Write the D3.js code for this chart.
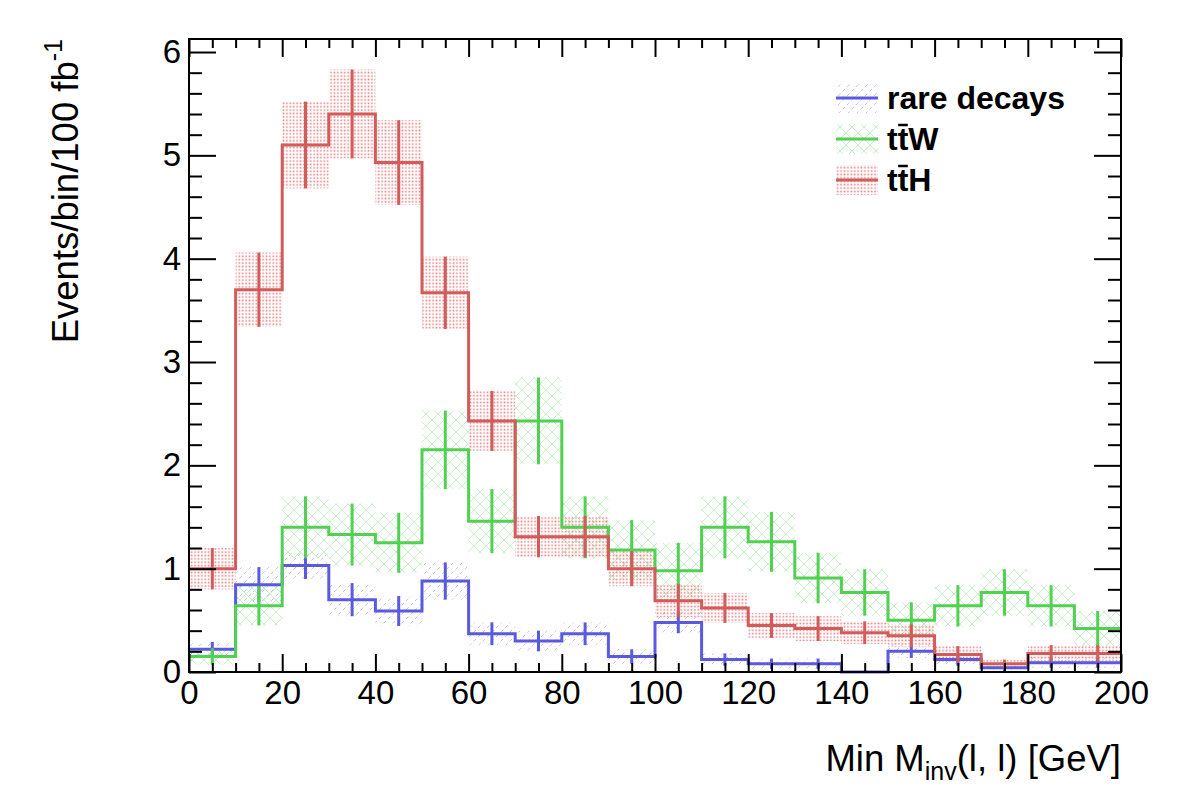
<!DOCTYPE html>
<html>
<head>
<meta charset="utf-8">
<script src="https://cdn.jsdelivr.net/npm/d3@7"></script>
<style>
  body { margin: 0; background: #fff; }
  svg { font-family: "Liberation Sans", Arial, Helvetica, sans-serif; }
</style>
</head>
<body>
<svg width="1182" height="800"></svg>
<script>
// bin edges: 20 bins of 10 GeV
let binEdges = d3.range(0, 201, 10);

// rare decays
let rareVals = [0.22, 0.845, 1.03, 0.7, 0.59, 0.88, 0.37, 0.3, 0.37, 0.15, 0.48, 0.12, 0.08, 0.08, 0.0, 0.2, 0.12, 0.04, 0.09, 0.09];
let rareErrs = [0.07, 0.17, 0.13, 0.16, 0.145, 0.18, 0.11, 0.1, 0.11, 0.07, 0.105, 0.06, 0.05, 0.05, 0, 0.065, 0.06, 0.03, 0.05, 0.05];

// ttW
let ttwVals = [0.15, 0.64, 1.4, 1.33, 1.25, 2.15, 1.46, 2.43, 1.4, 1.18, 0.98, 1.4, 1.26, 0.91, 0.77, 0.5, 0.64, 0.77, 0.64, 0.42];
let ttwErrs = [0.08, 0.19, 0.3, 0.3, 0.29, 0.38, 0.31, 0.42, 0.3, 0.29, 0.27, 0.3, 0.29, 0.245, 0.225, 0.175, 0.2, 0.225, 0.2, 0.17];

// ttH
let tthVals = [1.0, 3.7, 5.1, 5.4, 4.93, 3.67, 2.43, 1.31, 1.31, 1.0, 0.69, 0.62, 0.45, 0.42, 0.38, 0.35, 0.17, 0.08, 0.18, 0.18];
let tthErrs = [0.2, 0.36, 0.42, 0.43, 0.41, 0.35, 0.29, 0.2, 0.2, 0.17, 0.16, 0.145, 0.12, 0.12, 0.11, 0.11, 0.08, 0.04, 0.08, 0.08];

let xTickLabels = d3.range(0, 201, 20);
let yTickLabels = [0, 1, 2, 3, 4, 5, 6];

let svg = d3.select("svg");

let frame = { left: 189, right: 1121, top: 39, bottom: 672 };

let x = d3.scaleLinear().domain([0, 200]).range([frame.left, frame.right]);
let y = d3.scaleLinear().domain([0, 6]).range([frame.bottom, frame.bottom - 6 * 103.33]);
let yTop = y.invert(frame.top);

let series = [
  { name: "rare decays", vals: rareVals, errs: rareErrs, color: "#5a5ade", pat: "patBlue" },
  { name: "ttW", vals: ttwVals, errs: ttwErrs, color: "#52d052", pat: "patGreen" },
  { name: "ttH", vals: tthVals, errs: tthErrs, color: "#d25c5c", pat: "patRed" },
];

// fill patterns (ROOT-like hatches)
let defs = svg.append("defs");

let pb = defs.append("pattern").attr("id", "patBlue").attr("patternUnits", "userSpaceOnUse")
  .attr("width", 9).attr("height", 9);
pb.append("line").attr("x1", 1).attr("y1", 7).attr("x2", 3.5).attr("y2", 4.5)
  .attr("stroke", "#c4c4f4").attr("stroke-width", 1);
pb.append("line").attr("x1", 5.5).attr("y1", 2.5).attr("x2", 8).attr("y2", 0)
  .attr("stroke", "#c4c4f4").attr("stroke-width", 1);

let pg = defs.append("pattern").attr("id", "patGreen").attr("patternUnits", "userSpaceOnUse")
  .attr("width", 12).attr("height", 12);
pg.append("path").attr("d", "M0,0L12,12M12,0L0,12")
  .attr("stroke", "#b8eeb8").attr("stroke-width", 0.8).attr("fill", "none");

let pr = defs.append("pattern").attr("id", "patRed").attr("patternUnits", "userSpaceOnUse")
  .attr("width", 3.4).attr("height", 3.4);
pr.append("rect").attr("x", 0.5).attr("y", 0.5).attr("width", 1.6).attr("height", 1.6)
  .attr("fill", "#e06a6a").attr("opacity", 0.85);

let plot = svg.append("g");

// error bands
series.forEach((s) => {
  plot.append("g")
    .selectAll("rect")
    .data(s.vals)
    .join("rect")
    .attr("x", (_, i) => x(binEdges[i]))
    .attr("width", (_, i) => x(binEdges[i + 1]) - x(binEdges[i]))
    .attr("y", (d, i) => y(Math.min(d + s.errs[i], yTop)))
    .attr("height", (d, i) => y(Math.max(d - s.errs[i], 0)) - y(Math.min(d + s.errs[i], yTop)))
    .attr("fill", `url(#${s.pat})`);
});

// step lines + error bars
let step = d3.line().x((d) => x(d[0])).y((d) => y(d[1])).curve(d3.curveStepAfter);

series.forEach((s) => {
  let pts = s.vals.map((v, i) => [binEdges[i], v]);
  pts.push([200, s.vals[s.vals.length - 1]]);
  plot.append("path")
    .attr("d", step(pts))
    .attr("fill", "none")
    .attr("stroke", s.color)
    .attr("stroke-width", 3);

  plot.append("g")
    .selectAll("line")
    .data(s.vals)
    .join("line")
    .attr("x1", (_, i) => x(binEdges[i] + 5))
    .attr("x2", (_, i) => x(binEdges[i] + 5))
    .attr("y1", (d, i) => y(Math.max(d - s.errs[i], 0)))
    .attr("y2", (d, i) => y(d + s.errs[i]))
    .attr("stroke", s.color)
    .attr("stroke-width", 3);
});

// axes
function styleAxis(g) {
  g.select(".domain").remove();
  g.selectAll(".tick line").attr("stroke", "#000").attr("stroke-width", 2);
  g.selectAll("text").attr("font-size", 33).attr("fill", "#000")
    .attr("font-family", "'Liberation Sans', Arial, sans-serif");
}

let minorX = d3.range(0, 201, 5).filter((d) => d % 20 != 0);
let minorY = d3.range(0, 6.01, 0.2).map((d) => +d.toFixed(1)).filter((d) => Math.abs(d - Math.round(d)) > 0.01);

svg.append("g").attr("transform", `translate(0,${frame.bottom})`)
  .call(d3.axisBottom(x).tickValues(xTickLabels).tickSize(-18).tickPadding(9).tickFormat(d3.format("d")))
  .call(styleAxis);
svg.append("g").attr("transform", `translate(0,${frame.bottom})`)
  .call(d3.axisBottom(x).tickValues(minorX).tickSize(-9).tickFormat(""))
  .call(styleAxis);
svg.append("g").attr("transform", `translate(0,${frame.top})`)
  .call(d3.axisTop(x).tickValues(xTickLabels).tickSize(-18).tickFormat(""))
  .call(styleAxis);
svg.append("g").attr("transform", `translate(0,${frame.top})`)
  .call(d3.axisTop(x).tickValues(minorX).tickSize(-9).tickFormat(""))
  .call(styleAxis);

svg.append("g").attr("transform", `translate(${frame.left},0)`)
  .call(d3.axisLeft(y).tickValues(yTickLabels).tickSize(-27).tickPadding(8).tickFormat(d3.format("d")))
  .call(styleAxis);
svg.append("g").attr("transform", `translate(${frame.left},0)`)
  .call(d3.axisLeft(y).tickValues(minorY).tickSize(-13).tickFormat(""))
  .call(styleAxis);
svg.append("g").attr("transform", `translate(${frame.right},0)`)
  .call(d3.axisRight(y).tickValues(yTickLabels).tickSize(-27).tickFormat(""))
  .call(styleAxis);
svg.append("g").attr("transform", `translate(${frame.right},0)`)
  .call(d3.axisRight(y).tickValues(minorY).tickSize(-13).tickFormat(""))
  .call(styleAxis);

// frame
svg.append("rect")
  .attr("x", frame.left).attr("y", frame.top)
  .attr("width", frame.right - frame.left).attr("height", frame.bottom - frame.top)
  .attr("fill", "none").attr("stroke", "#000").attr("stroke-width", 2);

// axis titles
let xt = svg.append("text")
  .attr("x", frame.right).attr("y", 771)
  .attr("text-anchor", "end").attr("font-size", 36.5);
xt.append("tspan").text("Min M");
xt.append("tspan").attr("font-size", 25).attr("dy", 9).text("inv");
xt.append("tspan").attr("dy", -9).text("(l, l) [GeV]");

let yt = svg.append("text")
  .attr("transform", `translate(78,${frame.top}) rotate(-90)`)
  .attr("text-anchor", "end").attr("font-size", 36.5);
yt.append("tspan").text("Events/bin/100 fb");
yt.append("tspan").attr("font-size", 25).attr("dy", -16).text("-1");

// legend
let legendRows = [
  { label: ["rare decays"], s: series[0] },
  { label: ["t", "t", "W"], s: series[1] },
  { label: ["t", "t", "H"], s: series[2] },
];

let legend = svg.append("g");
legendRows.forEach((row, i) => {
  let cy = 98 + i * 41;
  let g = legend.append("g").attr("transform", `translate(0,${cy})`);
  g.append("rect").attr("x", 836).attr("y", -15).attr("width", 42).attr("height", 30)
    .attr("fill", `url(#${row.s.pat})`);
  g.append("line").attr("x1", 836).attr("x2", 878).attr("y1", 0).attr("y2", 0)
    .attr("stroke", row.s.color).attr("stroke-width", 3);
  let t = g.append("text").attr("x", 887).attr("y", 11)
    .attr("font-size", 32).attr("font-weight", "bold").text(row.label.join(""));
  if (row.label.length == 3) {
    let node = t.node();
    let x0 = 887 + node.getSubStringLength(0, 1);
    let w = node.getSubStringLength(1, 1);
    g.append("line").attr("x1", x0 + 0.5).attr("x2", x0 + w - 0.5)
      .attr("y1", 11 - 25).attr("y2", 11 - 25)
      .attr("stroke", "#000").attr("stroke-width", 2.5);
  }
});
</script>
</body>
</html>
